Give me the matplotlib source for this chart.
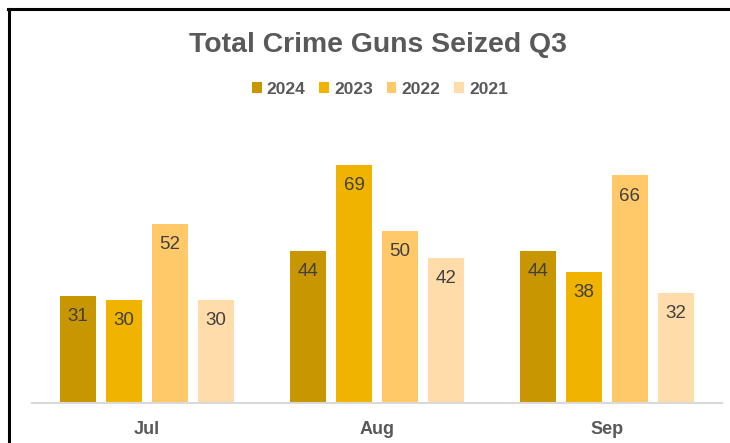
import matplotlib.pyplot as plt
import numpy as np
from matplotlib.lines import Line2D

plt.rcParams['font.family'] = ['Liberation Sans', 'DejaVu Sans']

# Data
months = ['Jul', 'Aug', 'Sep']
years = ['2024', '2023', '2022', '2021']
v2024 = [31, 44, 44]
v2023 = [30, 69, 38]
v2022 = [52, 50, 66]
v2021 = [30, 42, 32]
series = [v2024, v2023, v2022, v2021]
colors = ['#C89600', '#F0B400', '#FFC869', '#FFDCAA']

fig = plt.figure(figsize=(7.3, 4.43), dpi=100)
ax = fig.add_axes([32 / 730, 1 - 403 / 443, 690 / 730, (403 - 127) / 443])

x = np.arange(len(months))
pitch = 0.2
width = 0.157
for i, (vals, col, yr) in enumerate(zip(series, colors, years)):
    pos = x + (i - 1.5) * pitch
    bars = ax.bar(pos, vals, width, color=col, label=yr, zorder=2)
    for b, v in zip(bars, vals):
        ax.text(b.get_x() + b.get_width() / 2, v - 6.0, str(v),
                ha='center', va='center', fontsize=13.5, color='#404040')

ax.set_xlim(-0.5, 2.5)
ax.set_ylim(0, 80)
ax.set_xticks(x)
ax.set_xticklabels(months, fontsize=13, fontweight='bold', color='#595959')
ax.tick_params(axis='x', length=0, pad=13)
ax.set_yticks([])
for s in ['top', 'right', 'left']:
    ax.spines[s].set_visible(False)
ax.spines['bottom'].set_color('#D9D9D9')
ax.spines['bottom'].set_linewidth(1.5)

fig.text(378 / 730, 1 - 45 / 443, 'Total Crime Guns Seized Q3', ha='center', va='center',
         fontsize=20.4, fontweight='bold', color='#595959')

leg = fig.legend(loc='center', bbox_to_anchor=(380 / 730, 1 - 89 / 443), ncol=4,
                 frameon=False, fontsize=12.5, handlelength=0.55, handleheight=0.55,
                 handletextpad=0.3, columnspacing=0.8)
for t in leg.get_texts():
    t.set_fontweight('bold')
    t.set_color('#595959')

# outer frame (left and top edges visible)
fig.add_artist(Line2D([8.5 / 730, 8.5 / 730], [0, 1 - 9 / 443], color='black', lw=2.2,
                      transform=fig.transFigure))
fig.add_artist(Line2D([7.5 / 730, 1], [1 - 9 / 443, 1 - 9 / 443], color='black', lw=2.2,
                      transform=fig.transFigure))

fig.savefig('out.png', dpi=100)
